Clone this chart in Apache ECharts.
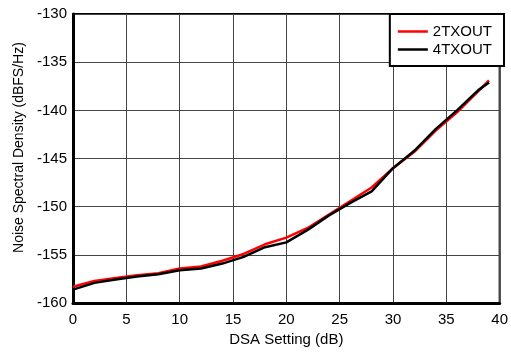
<!DOCTYPE html>
<html>
<head>
<meta charset="utf-8">
<script src="https://cdn.jsdelivr.net/npm/echarts@6/dist/echarts.min.js"></script>
<style>
html,body{margin:0;padding:0;background:#fff;}
#chart{width:511px;height:352px;}
</style>
</head>
<body>
<div id="chart"></div>
<script>
var dsa = [0, 2, 4, 6, 8, 10, 12, 14, 16, 18, 20, 22, 24, 26, 28, 30, 32, 34, 36, 38, 39];
var tx2 = [-158.3, -157.7, -157.4, -157.1, -156.9, -156.4, -156.2, -155.6, -154.9, -153.9, -153.2, -152.2, -150.8, -149.4, -148.0, -146.0, -144.3, -142.1, -140.2, -138.0, -136.9];
var tx4 = [-158.6, -157.9, -157.55, -157.25, -157.0, -156.6, -156.4, -155.9, -155.2, -154.2, -153.7, -152.4, -150.9, -149.6, -148.4, -146.0, -144.2, -141.95, -140.0, -137.9, -137.1];
var seriesNames = ['2TXOUT', '4TXOUT'];
var xTitle = 'DSA Setting (dB)';
var yTitle = 'Noise Spectral Density (dBFS/Hz)';

function pairs(xs, ys) { return xs.map(function (x, i) { return [x, ys[i]]; }); }

var font = 'Liberation Sans, Arial, sans-serif';
var lineIcon = 'path://M0,0 L30,0 L30,2.5 L0,2.5 Z';
var chart = echarts.init(document.getElementById('chart'), null, {renderer: 'canvas'});
chart.setOption({
  animation: false,
  backgroundColor: '#fff',
  textStyle: {fontFamily: font},
  grid: {left: 73, right: 7, top: 14, bottom: 43, show: true, borderColor: '#000', borderWidth: 2, containLabel: false},
  legend: {
    orient: 'vertical', right: 7, top: 14,
    padding: [10, 12, 9, 8], itemGap: 3, itemWidth: 30, itemHeight: 14,
    borderColor: '#000', borderWidth: 2, backgroundColor: '#fff',
    textStyle: {fontFamily: font, fontSize: 15, color: '#000'},
    data: seriesNames.map(function (n) { return {name: n, icon: lineIcon}; })
  },
  xAxis: {
    type: 'value', min: 0, max: 40, interval: 5,
    name: xTitle, nameLocation: 'middle', nameGap: 25,
    nameTextStyle: {fontFamily: font, fontSize: 15, color: '#000'},
    axisLine: {show: true, onZero: false, lineStyle: {color: '#000', width: 3}},
    axisTick: {show: false},
    axisLabel: {fontFamily: font, fontSize: 15, color: '#000', margin: 9},
    splitLine: {show: true, lineStyle: {color: '#444', width: 1}}
  },
  yAxis: {
    type: 'value', min: -160, max: -130, interval: 5,
    name: yTitle, nameLocation: 'middle', nameGap: 47,
    nameTextStyle: {fontFamily: font, fontSize: 14, color: '#000', padding: [0, 0, 0, 22]},
    axisLine: {show: true, onZero: false, lineStyle: {color: '#000', width: 3}},
    axisTick: {show: false},
    axisLabel: {fontFamily: font, fontSize: 15, color: '#000', margin: 6},
    splitLine: {show: true, lineStyle: {color: '#444', width: 1}}
  },
  series: [
    {name: seriesNames[0], type: 'line', data: pairs(dsa, tx2), symbol: 'none', lineStyle: {color: '#ff0000', width: 2.5}, itemStyle: {color: '#ff0000'}},
    {name: seriesNames[1], type: 'line', data: pairs(dsa, tx4), symbol: 'none', lineStyle: {color: '#000000', width: 2.5}, itemStyle: {color: '#000000'}}
  ]
});
</script>
</body>
</html>
